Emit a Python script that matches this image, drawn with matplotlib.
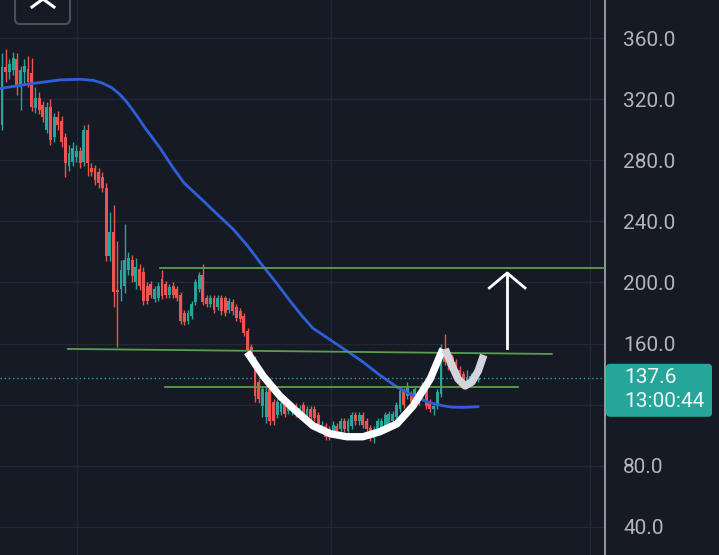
import matplotlib.pyplot as plt
import numpy as np
from matplotlib.patches import FancyBboxPatch

plt.rcParams['font.family'] = ['Roboto', 'DejaVu Sans']

# candle data (index = bar number)
opens = [303, 341, 338, 339, 346, 328, 338, 340, 337, 314,
         321, 316, 300, 315, 295, 308, 306, 295, 276, 279,
         282, 286, 279, 300, 275, 275, 272, 269, 262, 217,
         233, 195, 196, 198, 208, 215, 200, 209, 207, 198,
         199, 189, 190, 202, 199, 192, 198, 196, 192, 180,
         175, 178, 187, 196, 205, 190, 186, 190, 184, 190,
         190, 182, 187, 184, 181, 178, 168, 158, 150, 135,
         119, 112, 130, 122, 113, 115, 124, 116, 115, 119,
         114, 120, 113, 117, 117, 113, 104, 106, 104, 102,
         106, 104, 109, 103, 106, 113, 109, 113, 109, 105,
         98, 102, 104, 104, 107, 109, 112, 117, 129, 126,
         127, 124, 128, 126, 133, 122, 117, 119, 127, 156,
         154, 151, 148, 143, 140, 135, 135, 136, 136]
highs = [350, 353, 346, 351, 350, 342, 346, 348, 347, 328,
         325, 319, 318, 320, 311, 312, 309, 298, 290, 292,
         290, 289, 303, 304, 278, 277, 275, 272, 265, 246,
         251, 227, 215, 238, 220, 218, 216, 212, 210, 200,
         201, 198, 200, 208, 201, 199, 200, 198, 194, 182,
         182, 188, 202, 207, 212, 192, 192, 192, 192, 192,
         191, 190, 189, 186, 183, 180, 170, 160, 152, 137,
         132, 132, 132, 124, 124, 123, 126, 124, 122, 121,
         120, 122, 119, 119, 119, 115, 109, 108, 106, 109,
         108, 111, 111, 111, 115, 115, 115, 115, 111, 107,
         106, 111, 111, 115, 116, 116, 122, 131, 131, 135,
         129, 132, 130, 135, 135, 124, 120, 130, 160, 166,
         157, 153, 150, 145, 142, 143, 141, 142, 140]
lows = [300, 331, 333, 336, 323, 313, 330, 328, 312, 311,
        310, 305, 298, 290, 292, 300, 289, 269, 273, 276,
        279, 275, 276, 270, 270, 264, 262, 259, 214, 214,
        184, 158, 188, 193, 205, 200, 196, 195, 185, 186,
        190, 187, 188, 189, 190, 190, 190, 188, 173, 172,
        173, 176, 185, 194, 185, 184, 184, 180, 182, 179,
        178, 180, 179, 175, 174, 165, 154, 148, 122, 121,
        112, 108, 107, 107, 111, 113, 112, 114, 113, 112,
        112, 112, 111, 110, 109, 102, 102, 97, 97, 100,
        101, 102, 102, 101, 104, 107, 107, 105, 102, 96,
        95, 100, 102, 102, 105, 107, 110, 115, 118, 124,
        120, 122, 120, 124, 117, 115, 113, 117, 125, 146,
        143, 141, 139, 136, 132, 132, 133, 134, 135]
closes = [341, 338, 343, 347, 328, 339, 342, 331, 315, 321,
          313, 308, 315, 293, 308, 303, 292, 278, 285, 288,
          286, 278, 300, 278, 272, 267, 265, 262, 217, 233,
          194, 194, 208, 215, 216, 204, 210, 198, 188, 188,
          192, 196, 198, 191, 192, 197, 192, 190, 175, 174,
          180, 186, 200, 205, 187, 186, 190, 182, 190, 181,
          180, 188, 181, 177, 176, 167, 156, 150, 126, 124,
          130, 128, 109, 109, 122, 121, 114, 122, 120, 114,
          118, 114, 117, 112, 111, 104, 107, 99, 99, 107,
          103, 109, 104, 109, 113, 109, 113, 107, 104, 98,
          104, 109, 109, 113, 114, 114, 120, 129, 120, 132,
          122, 130, 122, 133, 119, 117, 119, 128, 158, 148,
          145, 143, 141, 138, 134, 138, 139, 139, 137.6]

# moving average read at a few bars
ma_idx = [-0.5, 7.5, 15.6, 21.0, 24.5, 27.0, 29.5, 31.5, 33.6, 36.0,
          38.5, 42.5, 46.0, 49.0, 53.2, 57.5, 62.1, 66.0, 69.4, 73.5,
          77.4, 80.5, 83.6, 88.2, 92.5, 97.0, 101.5, 106.2, 111.6,
          115.0, 118.5, 121.0, 123.5, 126.0, 128.0]
ma_val = [327, 330, 332.6, 333, 332.3, 330.5, 327.5, 323.5, 318, 310,
          301, 288, 275, 265, 255.5, 245.5, 235, 224, 213, 200.5,
          188, 178.5, 170, 162.5, 155.5, 148, 139.5, 131.5, 124.5,
          121.3, 119.3, 118.4, 118.2, 118.4, 118.7]

# drawn levels and pattern
top_x, top_y = [42.5, 162.5], [209.2, 209.2]
neck_x, neck_y = [17.7, 147.8], [156.5, 153.2]
low_x, low_y = [43.8, 138.7], [131.6, 131.6]
cup_x = [65.9, 70.2, 74.7, 79.3, 83.6, 88.2, 92.7, 97.0, 101.6, 106.2, 110.5, 115.1, 118.5]
cup_y = [154.4, 138.8, 125.7, 115.3, 106.2, 101.0, 99.0, 99.0, 102.3, 107.5, 119.2, 136.8, 156.4]
handle_x = [119.1, 121.0, 122.6, 124.5, 126.3, 128.0, 129.5]
handle_y = [156.4, 145.3, 136.8, 132.3, 134.9, 142.0, 152.5]
arrow_x, arrow_y0, arrow_y1 = 135.8, 157.1, 206.2
head_dx, head_dy = 4.8, 9.8

price_ticks = [40, 80, 120, 160, 200, 240, 280, 320, 360]
hidden_tick = 120  # covered by the last-price tag
time_grid = [20.2, 88.4, 158.1]
last_price = closes[-1]
last_time = '13:00:44'

bg = '#161a25'
up, down = '#26a69a', '#ef5350'

fig = plt.figure(figsize=(7.19, 5.55), dpi=100, facecolor=bg)
ax = fig.add_axes([0, 0, 605 / 719, 1], facecolor=bg)

idx = np.arange(len(closes))
o, h, l, c = map(np.array, (opens, highs, lows, closes))
cols = [up if cc >= oo else down for oo, cc in zip(o, c)]
ax.vlines(idx, l, h, colors=cols, lw=1, zorder=3)
body = np.maximum(np.abs(c - o), 0.8)
ax.bar(idx, body, bottom=np.minimum(o, c), width=0.78, color=cols, zorder=3)

ax.plot(ma_idx, ma_val, color='#2f5fd8', lw=2, zorder=4,
        solid_joinstyle='round', solid_capstyle='round')

green = '#5a9e4b'
ax.plot(top_x, top_y, color=green, lw=1.3, zorder=4)
ax.plot(neck_x, neck_y, color=green, lw=1.3, zorder=4)
ax.plot(low_x, low_y, color=green, lw=1.3, zorder=4)

ax.axhline(last_price, color=up, lw=1, ls=(0, (1, 2)), zorder=2)

ax.plot(cup_x, cup_y, color='white', lw=5.3, solid_capstyle='butt',
        solid_joinstyle='round', zorder=5)
ax.plot(handle_x, handle_y, color='#d4d5dc', lw=5.5, solid_capstyle='butt',
        solid_joinstyle='round', zorder=5)
ax.plot([arrow_x, arrow_x], [arrow_y0, arrow_y1], color='white', lw=2, zorder=5)
ax.plot([arrow_x - head_dx, arrow_x, arrow_x + head_dx],
        [arrow_y1 - head_dy, arrow_y1, arrow_y1 - head_dy], color='white', lw=2, zorder=5)

ax.set_xlim(-0.54, 162.1)
ax.set_ylim(21.6, 384.9)
ax.set_xticks(time_grid)
ax.set_xticklabels([])
ax.set_yticks(price_ticks)
ax.yaxis.tick_right()
ax.set_yticklabels(['' if t == hidden_tick else f'{t:.1f}' for t in price_ticks],
                   fontsize=15, color='#b2b5be')
ax.tick_params(axis='both', length=0, pad=13)
ax.grid(True, color='#242835', lw=1, zorder=0)
for s in ['top', 'left', 'bottom']:
    ax.spines[s].set_visible(False)
ax.spines['right'].set_color('#a0a3ab')
ax.spines['right'].set_linewidth(1.3)

# overlay in pixel coordinates for the price tag and the button
ov = fig.add_axes([0, 0, 1, 1])
ov.set_xlim(0, 719)
ov.set_ylim(555, 0)
ov.axis('off')
ov.patch.set_alpha(0)

ty = 555 - ax.transData.transform((0, last_price))[1]
tag = FancyBboxPatch((606, ty - 14), 106, 53, boxstyle='round,pad=0,rounding_size=4',
                     fc='#26a69a', ec='none')
ov.add_patch(tag)
ov.text(624, ty, f'{last_price:.1f}', color='#eef8f6', fontsize=15, va='center', ha='left')
ov.text(624, ty + 24, last_time, color='#eef8f6', fontsize=15, va='center', ha='left')

btn = FancyBboxPatch((15, -12), 55, 36, boxstyle='round,pad=0,rounding_size=5',
                     fc=bg, ec='#4a4e5a', lw=1.5)
ov.add_patch(btn)
ov.plot([32, 43, 54], [7, -1, 7], color='white', lw=2.2)

fig.savefig('out.png', dpi=100, facecolor=bg)
